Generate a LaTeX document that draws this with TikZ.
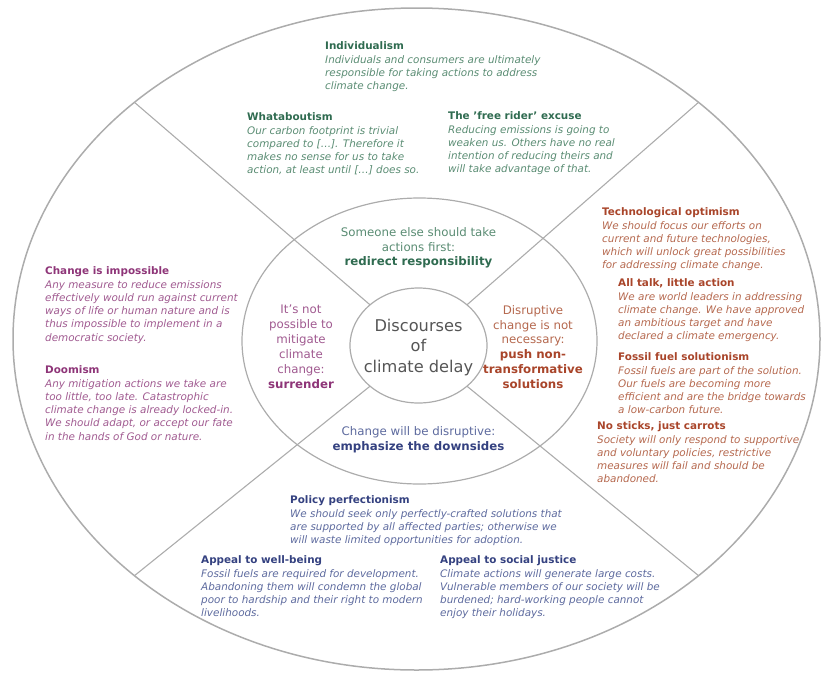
\documentclass[tikz,border=0pt]{standalone}
\usepackage{fontspec}
\setmainfont{DejaVu Sans}[ItalicFont={DejaVu Sans Oblique},BoldFont={DejaVu Sans Bold},BoldItalicFont={DejaVu Sans Bold Oblique}]
\usetikzlibrary{positioning}
\usetikzlibrary{shapes.geometric}
\definecolor{grnT}{RGB}{47,107,80}
\definecolor{grnB}{RGB}{90,140,115}
\definecolor{purT}{RGB}{142,53,120}
\definecolor{purB}{RGB}{160,90,144}
\definecolor{orgT}{RGB}{169,69,42}
\definecolor{orgB}{RGB}{181,104,78}
\definecolor{bluT}{RGB}{52,65,128}
\definecolor{bluB}{RGB}{93,106,158}
\definecolor{rimgray}{RGB}{172,172,172}
\definecolor{hubgray}{RGB}{85,85,85}
\newcommand{\hd}[2]{\textcolor{#1}{\upshape\bfseries #2}}

\begin{document}
\begin{tikzpicture}[x=1pt,y=-1pt,
  oval/.style={ellipse,draw=rimgray,line width=1.2pt,inner sep=0pt,outer sep=0pt},
  spoke/.style={draw=rimgray,line width=1.1pt},
  arg/.style={anchor=north west,yshift=7.9pt,align=left,inner sep=0pt,font=\fontsize{10.4}{13.2}\selectfont\itshape},
  cat/.style={anchor=north,yshift=9pt,align=center,inner sep=0pt,font=\fontsize{11.8}{14.9}\selectfont}]
	\useasboundingbox (0,0) rectangle (824,675);
	\node[oval,line width=1.5pt,minimum width=807pt,minimum height=662pt] (outer) at (416.5,339) {};
	\node[oval,minimum width=355pt,minimum height=286pt] (ring) at (419.5,341) {};
	\node[oval,minimum width=137pt,minimum height=115pt] (hub) at (418.5,345.5) {};
	\foreach \a in {40,140,-40,-140}
		\draw[spoke] (hub.\a) -- (outer.\a);
	\node[anchor=north,yshift=12.3pt,align=center,inner sep=0pt,text=hubgray,font=\fontsize{16.2}{20.5}\selectfont] (hubtext) at (418.5,331) {Discourses\\of\\climate delay};

	\node[cat,text=grnB] (redirect) at (418.5,236) {Someone else should take\\actions first:\\\textcolor{grnT}{\bfseries redirect responsibility}};
	\node[cat,text=purB] (surrender) at (301,314) {It’s not\\possible to\\mitigate\\climate\\change:\\\textcolor{purT}{\bfseries surrender}};
	\node[cat,text=orgB] (pushnon) at (533,314) {Disruptive\\change is not\\necessary:\\\textcolor{orgT}{\bfseries push non-}\\\textcolor{orgT}{\bfseries transformative}\\\textcolor{orgT}{\bfseries solutions}};
	\node[cat,text=bluB] (downsides) at (418.5,435) {Change will be disruptive:\\\textcolor{bluT}{\bfseries emphasize the downsides}};

	\node[arg,text=grnB] (indiv) at (325,49) {\hd{grnT}{Individualism}\\[0.8pt]Individuals and consumers are ultimately\\responsible for taking actions to address\\climate change.};
	\node[arg,text=grnB] (whatab) at (247,120) {\hd{grnT}{Whataboutism}\\[0.8pt]Our carbon footprint is trivial\\compared to […]. Therefore it\\makes no sense for us to take\\action, at least until […] does so.};
	\node[arg,text=grnB] (freerider) at (448,119) {\hd{grnT}{The 'free rider' excuse}\\[0.8pt]Reducing emissions is going to\\weaken us. Others have no real\\intention of reducing theirs and\\will take advantage of that.};

	\node[arg,text=purB] (impossible) at (45,274) {\hd{purT}{Change is impossible}\\[0.8pt]Any measure to reduce emissions\\effectively would run against current\\ways of life or human nature and is\\thus impossible to implement in a\\democratic society.};
	\node[arg,text=purB] (doomism) at (45,373) {\hd{purT}{Doomism}\\[0.8pt]Any mitigation actions we take are\\too little, too late. Catastrophic\\climate change is already locked-in.\\We should adapt, or accept our fate\\in the hands of God or nature.};

	\node[arg,text=orgB] (techopt) at (602,215) {\hd{orgT}{Technological optimism}\\[0.8pt]We should focus our efforts on\\current and future technologies,\\which will unlock great possibilities\\for addressing climate change.};
	\node[arg,text=orgB] (alltalk) at (618,286) {\hd{orgT}{All talk, little action}\\[0.8pt]We are world leaders in addressing\\climate change. We have approved\\an ambitious target and have\\declared a climate emergency.};
	\node[arg,text=orgB] (fossil) at (618,360) {\hd{orgT}{Fossil fuel solutionism}\\[0.8pt]Fossil fuels are part of the solution.\\Our fuels are becoming more\\efficient and are the bridge towards\\a low-carbon future.};
	\node[arg,text=orgB] (carrots) at (597,429) {\hd{orgT}{No sticks, just carrots}\\[0.8pt]Society will only respond to supportive\\and voluntary policies, restrictive\\measures will fail and should be\\abandoned.};

	\node[arg,text=bluB] (perfect) at (290,503) {\hd{bluT}{Policy perfectionism}\\[0.8pt]We should seek only perfectly-crafted solutions that\\are supported by all affected parties; otherwise we\\will waste limited opportunities for adoption.};
	\node[arg,text=bluB] (wellbeing) at (201,563) {\hd{bluT}{Appeal to well-being}\\[0.8pt]Fossil fuels are required for development.\\Abandoning them will condemn the global\\poor to hardship and their right to modern\\livelihoods.};
	\node[arg,text=bluB] (justice) at (440,563) {\hd{bluT}{Appeal to social justice}\\[0.8pt]Climate actions will generate large costs.\\Vulnerable members of our society will be\\burdened; hard-working people cannot\\enjoy their holidays.};
\end{tikzpicture}
\end{document}
